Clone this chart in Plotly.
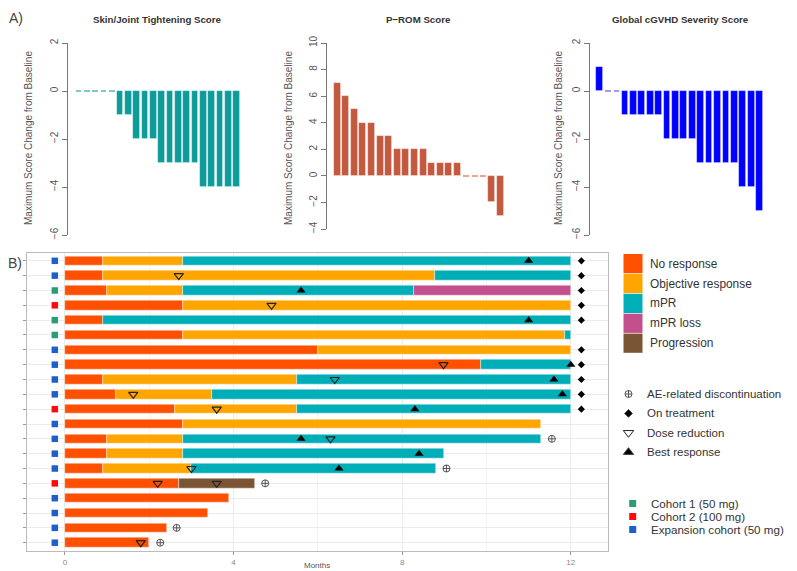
import plotly.graph_objects as go

W, H = 797, 571


def fx(px):
    return px / W


def fy(py):
    return 1 - py / H


FONT = "Liberation Sans, Arial, sans-serif"

# ---------------- Panel A data ----------------
patient_idx = list(range(1, 21))
skin_change = [0, 0, 0, 0, 0, -1, -1, -2, -2, -2, -3, -3, -3, -3, -3, -4, -4, -4, -4, -4]
prom_change = [7, 6, 5, 4, 4, 3, 3, 2, 2, 2, 2, 1, 1, 1, 1, 0, 0, 0, -2, -3]
global_change = [1, 0, 0, -1, -1, -1, -1, -1, -2, -2, -2, -2, -3, -3, -3, -3, -3, -4, -4, -5]
panel_titles = ["Skin/Joint Tightening Score", "P\u2212ROM Score", "Global cGVHD Severity Score"]
y_title = "Maximum Score Change from Baseline"

# ---------------- Panel B data (top row first) ----------------
state_names = ["No response", "Objective response", "mPR", "mPR loss", "Progression"]
state_colors = ["#FF5000", "#FFA500", "#00AEB8", "#C34F8D", "#7B5533"]
cohort_names = ["Cohort 1 (50 mg)", "Cohort 2 (100 mg)", "Expansion cohort (50 mg)"]
cohort_colors = ["#2A9D74", "#FF0A0A", "#1F5FC9"]

row_cohort = [2, 2, 0, 1, 0, 0, 2, 2, 2, 2, 1, 2, 2, 2, 2, 1, 2, 2, 2, 2]
seg_states = [
    [0, 1, 2], [0, 1, 2], [0, 1, 2, 3], [0, 1], [0, 2],
    [0, 1, 2], [0, 1], [0, 2], [0, 1, 2], [0, 1, 2],
    [0, 1, 2], [0, 1], [0, 1, 2], [0, 1, 2], [0, 1, 2],
    [0, 4], [0], [0], [0], [0],
]
seg_ends = [
    [0.9, 2.8, 12.0], [0.9, 8.77, 12.0], [1.0, 2.8, 8.28, 12.0], [2.8, 12.0], [0.9, 12.0],
    [2.8, 11.87, 12.0], [6.0, 12.0], [9.88, 12.0], [0.9, 5.5, 12.0], [1.2, 3.5, 12.0],
    [2.6, 5.5, 12.0], [2.8, 11.3], [1.0, 2.8, 11.3], [1.0, 2.8, 9.0], [0.9, 3.0, 8.8],
    [2.7, 4.5], [3.9], [3.4], [2.42], [2.0],
]
best_response = [11.0, None, 5.6, None, 11.0, None, None, 12.0, 11.6, 11.8,
                 8.3, None, 5.6, 8.4, 6.5, None, None, None, None, None]
dose_reduction = [[], [2.7], [], [4.9], [], [], [], [8.98], [6.4], [1.62],
                  [3.6], [], [6.3], [], [3.0], [2.2, 3.6], [], [], [], [1.8]]
ae_discontinuation = [None, None, None, None, None, None, None, None, None, None,
                      None, None, 11.55, None, 9.05, 4.75, None, None, 2.65, 2.26]
on_treatment = [True, True, True, True, True, False, True, True, True, True,
                True, False, False, False, False, False, False, False, False, False]
x_ticks = [0, 4, 8, 12]
symbol_legend = ["AE-related discontinuation", "On treatment", "Dose reduction", "Best response"]

fig = go.Figure()

# ---------------- Panel A ----------------
panelA = [
    (skin_change, "#0E9C9A", "#7CCBCA", "x", "y", 0.08),
    (prom_change, "#C35A3F", "#E7A793", "x2", "y2", 0.14),
    (global_change, "#0000FF", "#9B9BFF", "x3", "y3", 0.08),
]
for vals, col, zcol, xa, ya, zh in panelA:
    fig.add_trace(go.Bar(
        x=patient_idx, y=vals, width=0.8, xaxis=xa, yaxis=ya, showlegend=False,
        marker=dict(color=col, line=dict(color="rgba(255,255,255,0.55)", width=0.8)),
        hoverinfo="skip"))
    fig.add_trace(go.Bar(
        x=patient_idx, y=[zh if v == 0 else None for v in vals], base=-zh / 2,
        width=0.7, xaxis=xa, yaxis=ya, showlegend=False,
        marker=dict(color=zcol, line=dict(width=0)), hoverinfo="skip"))

# ---------------- Panel B bars ----------------
rows = list(range(1, 21))
for s, sname in enumerate(state_names):
    ys, bases, lens = [], [], []
    for r, (sts, ends) in enumerate(zip(seg_states, seg_ends)):
        start = 0.0
        for st, e in zip(sts, ends):
            if st == s:
                ys.append(rows[r])
                bases.append(start)
                lens.append(e - start)
            start = e
    fig.add_trace(go.Bar(
        y=ys, x=lens, base=bases, orientation="h", width=0.64,
        marker=dict(color=state_colors[s], line=dict(color="rgba(255,255,255,0.7)", width=0.6)),
        xaxis="x4", yaxis="y4", showlegend=False, name=sname))

# cohort squares
for c, cname in enumerate(cohort_names):
    ys = [rows[r] for r in range(20) if row_cohort[r] == c]
    fig.add_trace(go.Scatter(
        x=[-0.24] * len(ys), y=ys, mode="markers", xaxis="x4", yaxis="y4",
        marker=dict(symbol="square", size=6.5, color=cohort_colors[c]),
        showlegend=False, name=cname))

# dose reductions
dx, dy = [], []
for r, lst in enumerate(dose_reduction):
    for v in lst:
        dx.append(v)
        dy.append(rows[r])
fig.add_trace(go.Scatter(
    x=dx, y=dy, mode="markers", xaxis="x4", yaxis="y4", showlegend=False,
    marker=dict(symbol="triangle-down-open", size=8, color="#222", line=dict(width=1.2))))

# best response
bx = [v for v in best_response if v is not None]
by = [rows[r] for r, v in enumerate(best_response) if v is not None]
fig.add_trace(go.Scatter(
    x=bx, y=by, mode="markers", xaxis="x4", yaxis="y4", showlegend=False,
    marker=dict(symbol="triangle-up", size=8, color="#000")))

# on treatment
ox = [max(seg_ends[r]) + 0.25 for r in range(20) if on_treatment[r]]
oy = [rows[r] for r in range(20) if on_treatment[r]]
fig.add_trace(go.Scatter(
    x=ox, y=oy, mode="markers", xaxis="x4", yaxis="y4", showlegend=False,
    marker=dict(symbol="diamond", size=5.5, color="#000")))

# AE discontinuation
ax_ = [v for v in ae_discontinuation if v is not None]
ay_ = [rows[r] for r, v in enumerate(ae_discontinuation) if v is not None]
fig.add_trace(go.Scatter(
    x=ax_, y=ay_, mode="markers", xaxis="x4", yaxis="y4", showlegend=False,
    marker=dict(symbol="circle-cross-open", size=7, color="#555", line=dict(width=1))))

# ---------------- Legend (in pixel-like coordinate axis x5/y5) ----------------
shapes = []
annotations = []
for i, (sname, col) in enumerate(zip(state_names, state_colors)):
    top = 254 + i * 19.9
    shapes.append(dict(type="rect", xref="x5", yref="y5", x0=623.5, x1=642.5,
                       y0=top, y1=top + 19.2, fillcolor=col, line=dict(width=0)))
    annotations.append(dict(xref="x5", yref="y5", x=647.5, y=top + 9.6, text=sname,
                            showarrow=False, xanchor="left", yanchor="middle",
                            font=dict(size=11.9, color="#333", family=FONT)))

sym_specs = [("circle-cross-open", 7, "#555"), ("diamond", 6, "#000"),
             ("triangle-down-open", 9, "#222"), ("triangle-up", 9, "#000")]
for i, (lab, (sym, sz, col)) in enumerate(zip(symbol_legend, sym_specs)):
    yy = 394 + i * 19.4
    fig.add_trace(go.Scatter(x=[628.5], y=[yy], mode="markers", xaxis="x5", yaxis="y5",
                             showlegend=False, marker=dict(symbol=sym, size=sz, color=col,
                                                           line=dict(width=1))))
    annotations.append(dict(xref="x5", yref="y5", x=645, y=yy, text=lab,
                            showarrow=False, xanchor="left", yanchor="middle",
                            font=dict(size=11.5, color="#333", family=FONT)))

for i, (cname, col) in enumerate(zip(cohort_names, cohort_colors)):
    yy = 503.5 + i * 13.0
    fig.add_trace(go.Scatter(x=[632.7], y=[yy], mode="markers", xaxis="x5", yaxis="y5",
                             showlegend=False, marker=dict(symbol="square", size=7, color=col)))
    annotations.append(dict(xref="x5", yref="y5", x=649.5, y=yy, text=cname,
                            showarrow=False, xanchor="left", yanchor="middle", borderpad=0,
                            font=dict(size=11.6, color="#333", family=FONT)))

# ---------------- Texts ----------------
for txt, cx in zip(panel_titles, [157, 418.5, 680]):
    annotations.append(dict(xref="paper", yref="paper", x=fx(cx), y=fy(19), text="<b>%s</b>" % txt,
                            showarrow=False, xanchor="center", yanchor="middle",
                            font=dict(size=9.7, color="#333", family=FONT)))
for cx, cy in [(28, 138), (288, 138), (558, 138)]:
    annotations.append(dict(xref="paper", yref="paper", x=fx(cx), y=fy(cy), text=y_title,
                            showarrow=False, textangle=-90, xanchor="center", yanchor="middle",
                            font=dict(size=10, color="#555", family=FONT)))
annotations.append(dict(xref="paper", yref="paper", x=fx(16), y=fy(18), text="A)",
                        showarrow=False, xanchor="center", yanchor="middle",
                        font=dict(size=14, color="#444", family=FONT)))
annotations.append(dict(xref="paper", yref="paper", x=fx(15), y=fy(263), text="B)",
                        showarrow=False, xanchor="center", yanchor="middle",
                        font=dict(size=14, color="#444", family=FONT)))
annotations.append(dict(xref="paper", yref="paper", x=fx(317), y=fy(565), text="Months",
                        showarrow=False, xanchor="center", yanchor="middle",
                        font=dict(size=8, color="#555", family=FONT)))

yA = dict(showline=True, linecolor="#777", linewidth=1, ticks="outside", ticklen=5,
          tickcolor="#777", tickangle=-90, tickfont=dict(size=10, color="#555", family=FONT),
          showgrid=False, zeroline=False, automargin=False)

fig.update_layout(
    width=W, height=H, margin=dict(l=0, r=0, t=0, b=0, pad=0, autoexpand=False),
    paper_bgcolor="white", plot_bgcolor="white",
    barmode="overlay", bargap=0, showlegend=False,
    font=dict(family=FONT),
    xaxis=dict(domain=[fx(68), fx(245)], range=[-0.26, 21], visible=False, automargin=False),
    yaxis=dict(domain=[fy(235), fy(43)], range=[-6, 2], tickvals=[-6, -4, -2, 0, 2], anchor="x", **yA),
    xaxis2=dict(domain=[fx(327), fx(509)], range=[-0.18, 21], visible=False, anchor="y2", automargin=False),
    yaxis2=dict(domain=[fy(229), fy(43)], range=[-4, 10], tickvals=[-4, -2, 0, 2, 4, 6, 8, 10],
                anchor="x2", **yA),
    xaxis3=dict(domain=[fx(590), fx(768)], range=[-0.15, 21], visible=False, anchor="y3", automargin=False),
    yaxis3=dict(domain=[fy(235), fy(43)], range=[-6, 2], tickvals=[-6, -4, -2, 0, 2], anchor="x3", **yA),
    xaxis4=dict(domain=[fx(27), fx(607.5)], range=[-0.9, 12.87], tickvals=x_ticks,
                ticks="outside", ticklen=3, tickcolor="#999",
                tickfont=dict(size=8, color="#888", family=FONT),
                showgrid=True, gridcolor="#EBEBEB", gridwidth=1,
                minor=dict(tickvals=[2, 6, 10], showgrid=True, gridcolor="#F2F2F2", gridwidth=0.8),
                zeroline=False, showline=True, mirror=True, linecolor="#BBBBBB", linewidth=1,
                anchor="y4", automargin=False),
    yaxis4=dict(domain=[fy(551), fy(252.5)], range=[20.56, 0.44], tickvals=rows,
                showticklabels=False, ticks="outside", ticklen=3, tickcolor="#999",
                showgrid=True, gridcolor="#EBEBEB", gridwidth=1, zeroline=False,
                showline=True, mirror=True, linecolor="#BBBBBB", linewidth=1, anchor="x4",
                automargin=False),
    xaxis5=dict(domain=[fx(610), 1], range=[610, 797], visible=False, anchor="y5", automargin=False),
    yaxis5=dict(domain=[0, fy(240)], range=[571, 240], visible=False, anchor="x5", automargin=False),
    shapes=shapes, annotations=annotations,
)

fig.write_html("out.html", config={"displayModeBar": False},
               post_script="document.body.style.margin='0px';document.body.style.overflow='hidden';")
